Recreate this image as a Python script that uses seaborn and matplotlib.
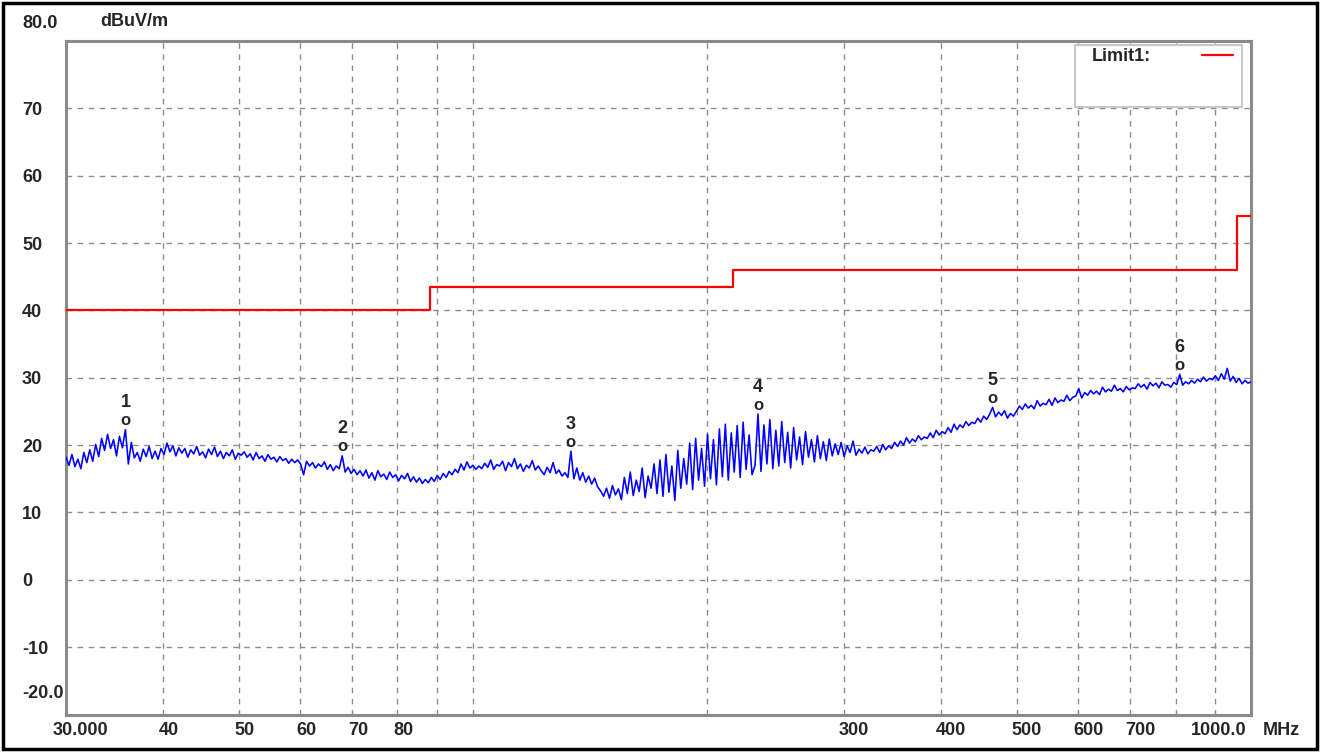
import numpy as np
import pandas as pd
import matplotlib
matplotlib.use("Agg")
import matplotlib.pyplot as plt
import seaborn as sns
from matplotlib.lines import Line2D
from matplotlib.patches import Rectangle
from matplotlib.ticker import NullLocator

# ---------------- data ----------------
START_MHZ = 30.0
STOP_MHZ = 1000.0

level_dbuv = [
    18.2, 17.0, 18.6, 16.8, 17.9, 16.5, 18.9, 17.4, 19.3, 17.6, 20.1, 18.3, 21.0, 19.2, 21.6, 19.5, 20.8, 18.4, 21.3, 19.6,
    22.3, 17.2, 20.4, 18.1, 18.9, 17.6, 19.4, 18.3, 19.8, 18.0, 19.1, 17.9, 19.5, 18.6, 20.3, 19.0, 19.9, 18.4, 19.6, 18.8,
    19.5, 18.2, 19.3, 18.7, 19.8, 18.5, 19.0, 18.1, 19.4, 18.6, 19.7, 18.3, 19.1, 18.0, 18.9, 18.4, 19.3, 17.9, 18.8, 18.5,
    19.0, 18.2, 18.7, 17.8, 18.9, 18.0, 18.4, 17.6, 18.6, 17.9, 18.2, 17.5, 18.3, 17.7, 18.0, 17.3, 17.9, 17.4, 17.8, 17.2,
    15.6, 17.6, 16.9, 17.4, 16.6, 17.2, 16.8, 17.5, 16.4, 17.1, 16.2, 16.9, 16.5, 18.4, 16.0, 16.7, 15.8, 16.4, 15.6, 16.2,
    15.4, 16.3, 15.1, 15.9, 14.8, 16.2, 15.3, 15.7, 14.9, 16.0, 15.2, 15.6, 14.7, 15.5, 15.0, 15.8, 14.6, 15.3, 14.5, 15.1,
    14.3, 14.9, 14.4, 15.2, 14.6, 15.5, 14.9, 15.8, 15.2, 16.1, 15.6, 16.4, 15.9, 17.2, 16.3, 17.5, 16.6, 17.0, 16.4, 16.9,
    16.5, 17.3, 16.7, 17.8, 16.4, 17.1, 16.9, 17.6, 16.2, 17.4, 16.8, 18.0, 16.5, 17.2, 16.1, 17.0, 16.6, 17.7, 16.3, 16.9,
    16.2, 15.6, 16.7, 15.9, 17.4, 15.8, 16.3, 15.4, 15.9, 15.2, 19.1, 15.0, 16.6, 14.8, 15.9, 14.5, 15.4, 14.2, 15.1, 13.8,
    13.2, 12.4, 13.6, 12.1, 14.0, 12.6, 13.5, 11.9, 15.2, 12.8, 16.0, 12.5, 14.8, 13.1, 16.6, 12.2, 15.4, 13.6, 17.2, 12.8,
    17.8, 12.4, 18.6, 13.0, 16.9, 11.8, 19.2, 13.6, 18.0, 14.2, 20.3, 13.4, 21.0, 14.8, 19.5, 13.9, 21.6, 15.0, 20.8, 14.1,
    22.4, 15.3, 23.1, 14.8, 21.8, 16.0, 22.9, 15.2, 23.4, 16.4, 21.5, 15.6, 17.0, 24.6, 16.1, 23.0, 17.2, 23.8, 16.5, 22.2,
    16.9, 23.5, 17.4, 21.9, 16.6, 22.6, 17.8, 21.2, 17.1, 22.0, 18.2, 20.8, 17.5, 21.4, 18.0, 20.5, 17.7, 20.9, 18.4, 20.2,
    18.6, 20.4, 18.3, 19.9, 18.9, 20.6, 18.5, 19.4, 18.8, 19.7, 18.7, 19.3, 19.1, 19.8, 18.9, 20.1, 19.3, 19.9, 19.5, 20.4,
    19.8, 20.6, 20.0, 21.1, 20.3, 20.9, 20.5, 21.4, 20.8, 21.2, 21.0, 21.8, 21.1, 22.2, 21.5, 22.0, 21.7, 22.6, 21.9, 23.1,
    22.3, 23.0, 22.6, 23.5, 22.9, 23.4, 23.2, 24.0, 23.4, 24.3, 23.8, 24.6, 25.6, 24.2, 24.9, 24.4, 25.1, 24.0, 24.7, 24.3,
    25.0, 25.8, 25.3, 26.1, 25.5, 25.9, 25.4, 26.6, 25.8, 26.2, 26.0, 26.8, 25.9, 27.0, 26.3, 26.7, 26.5, 27.4, 26.6, 27.1,
    27.3, 28.4, 27.0, 27.8, 27.4, 28.1, 27.6, 28.0, 27.5, 28.6, 27.9, 28.3, 28.0, 28.9, 28.1, 28.4, 27.9, 28.7, 28.2, 28.5,
    28.4, 29.1, 28.6, 29.0, 28.3, 29.3, 28.8, 29.2, 28.5, 29.4, 28.9, 29.0, 28.6, 29.3, 29.0, 30.5, 28.9, 29.4, 29.1, 29.6,
    29.2, 29.8, 29.4, 30.1, 29.5, 29.9, 29.7, 30.3, 29.6, 30.6, 29.8, 31.4, 29.5, 30.2, 29.3, 29.9, 29.1, 29.6, 29.2, 29.4,
]

marker_idx = [20, 93, 170, 233, 312, 375]
marker_labels = ["1", "2", "3", "4", "5", "6"]

limit_freq = [30, 88, 216, 960, 1000]
limit_level = [40, 43.5, 46, 54, 54]

x_tick_values = [30, 40, 50, 60, 70, 80, 300, 400, 500, 600, 700, 1000]
x_tick_labels = ["30.000", "40", "50", "60", "70", "80", "300", "400", "500", "600", "700", "1000.0"]
x_grid_values = [40, 50, 60, 70, 80, 90, 100, 200, 300, 400, 500, 600, 700, 800, 900]
y_tick_values = [70, 60, 50, 40, 30, 20, 10, 0, -10]
y_tick_labels = ["70", "60", "50", "40", "30", "20", "10", "0", "-10"]
y_top_label = "80.0"
y_bottom_label = "-20.0"
unit_y = "dBuV/m"
unit_x = "MHz"
legend_label = "Limit1:"

# ---------------- style ----------------
sns.set_style("white")
plt.rcParams["font.family"] = ["Liberation Sans", "DejaVu Sans"]
plt.rcParams["font.weight"] = "bold"

W, H = 1322, 753
fig = plt.figure(figsize=(W / 100, H / 100), dpi=100)
fig.patch.set_facecolor("white")


def fx(px):
    return px / W


def fy(py):
    return 1 - py / H


ax_left, ax_right, ax_top, ax_bottom = 66, 1251, 41, 714.5
ax = fig.add_axes([fx(ax_left), fy(ax_bottom), fx(ax_right - ax_left), (ax_bottom - ax_top) / H])

freq = np.geomspace(START_MHZ, STOP_MHZ, len(level_dbuv))
trace = pd.DataFrame({"freq": freq, "level": level_dbuv})
limit = pd.DataFrame({"freq": limit_freq, "level": limit_level})

sns.lineplot(data=trace, x="freq", y="level", ax=ax, color="#0000ff",
             linewidth=1.15, estimator=None, sort=False, zorder=4)
sns.lineplot(data=limit, x="freq", y="level", ax=ax, color="#ff0000",
             linewidth=1.6, estimator=None, sort=False, drawstyle="steps-post", zorder=4)

ax.set_xscale("log")
ax.set_xlim(START_MHZ, STOP_MHZ)
ax.set_ylim(-20, 80)
ax.set_xlabel("")
ax.set_ylabel("")

# grid
ax.xaxis.set_minor_locator(NullLocator())
ax.set_xticks(x_grid_values)
ax.set_xticklabels([])
ax.set_yticks(y_tick_values)
ax.set_yticklabels(y_tick_labels, fontsize=13, fontweight="bold")
for lab in ax.get_yticklabels():
    lab.set_horizontalalignment("left")
ax.tick_params(axis="both", length=0)
ax.tick_params(axis="y", pad=(ax_left - 22) * 0.72)
ax.grid(True, color="#8c8c8c", linestyle=(0, (4, 4)), linewidth=1.0)
ax.set_axisbelow(True)

for s in ax.spines.values():
    s.set_visible(True)
    s.set_color("#8a8a8a")
    s.set_linewidth(2.2)

# x tick labels (as annotations, offsets in pixels)
x_offsets = {30: 14, 1000: -32}
for v, t in zip(x_tick_values, x_tick_labels):
    dx = x_offsets.get(v, 6 if v < 100 else 10)
    ax.annotate(t, xy=(v, 0), xycoords=("data", "axes fraction"),
                xytext=(dx, -16), textcoords="offset pixels",
                ha="center", va="center", fontsize=13, fontweight="bold", annotation_clip=False)
ax.annotate(unit_x, xy=(1, 0), xycoords="axes fraction", xytext=(30, -16),
            textcoords="offset pixels", ha="center", va="center",
            fontsize=13, fontweight="bold", annotation_clip=False)

# top / bottom y labels
ax.annotate(y_top_label, xy=(0, 80), xycoords=("axes fraction", "data"),
            xytext=(-(ax_left - 22), 17), textcoords="offset pixels",
            ha="left", va="center", fontsize=13, fontweight="bold", annotation_clip=False)
ax.annotate(y_bottom_label, xy=(0, -20), xycoords=("axes fraction", "data"),
            xytext=(-(ax_left - 22), 21), textcoords="offset pixels",
            ha="left", va="center", fontsize=13, fontweight="bold", annotation_clip=False)
fig.text(fx(100), fy(22), unit_y, ha="left", va="center", fontsize=13, fontweight="bold")

# markers
for idx, lab in zip(marker_idx, marker_labels):
    f, lv = freq[idx], level_dbuv[idx]
    ax.annotate("o", xy=(f, lv), xytext=(0, 9), textcoords="offset pixels",
                ha="center", va="center", fontsize=12, fontweight="bold", zorder=6)
    ax.annotate(lab, xy=(f, lv), xytext=(0, 27), textcoords="offset pixels",
                ha="center", va="center", fontsize=13, fontweight="bold", zorder=6)

# legend box
box = Rectangle((fx(1075), fy(107)), fx(1242 - 1075), (107 - 45) / H,
                transform=fig.transFigure, facecolor="white", edgecolor="#c8c8c8",
                linewidth=1.5, zorder=5, clip_on=False)
ax.add_patch(box)
leg = ax.legend(handles=[Line2D([], [], color="#ff0000", linewidth=1.6)],
                labels=[legend_label], loc="upper left",
                bbox_to_anchor=(fx(1092), fy(48)), bbox_transform=fig.transFigure,
                frameon=False, markerfirst=False, handlelength=1.7, handletextpad=2.8,
                borderpad=0, borderaxespad=0, prop={"size": 13, "weight": "bold"})
leg.set_zorder(7)

# outer frame
fig.add_artist(Rectangle((fx(3), fy(749)), fx(1317 - 3), (749 - 3) / H,
                         transform=fig.transFigure, fill=False, edgecolor="black",
                         linewidth=2.5))

fig.savefig("out.png", dpi=100, facecolor="white")
